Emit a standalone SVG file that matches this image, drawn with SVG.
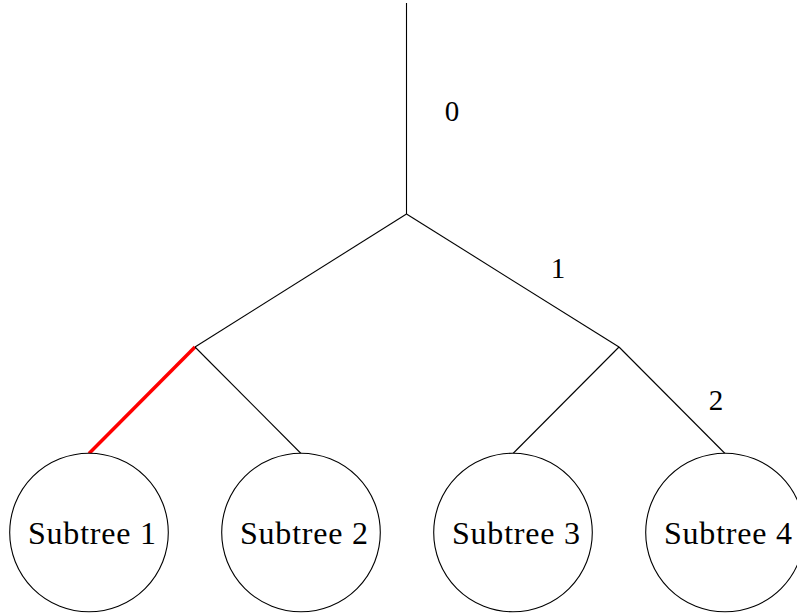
<svg xmlns="http://www.w3.org/2000/svg" width="797" height="616" viewBox="0 0 797 616">
<style>
.e{stroke:#000;stroke-width:1.1;fill:none}
.r{stroke:#f00;stroke-width:3.5;fill:none}
.n{stroke:#000;stroke-width:1.1;fill:#fff}
text{font-family:"Liberation Serif","DejaVu Serif",serif;font-size:32px;fill:#000;text-anchor:middle}
</style>
<rect width="797" height="616" fill="#fff"/>
<g id="connectors">
<line class="e" x1="406.5" y1="3" x2="406.5" y2="214"/>
<line class="e" x1="406.5" y1="214" x2="195" y2="347"/>
<line class="e" x1="406.5" y1="214" x2="619" y2="347"/>
<line class="r" x1="195" y1="347" x2="89" y2="453.5"/>
<line class="e" x1="195" y1="347" x2="301" y2="453.5"/>
<line class="e" x1="619" y1="347" x2="513" y2="453.5"/>
<line class="e" x1="619" y1="347" x2="725" y2="453.5"/>
<text x="452" y="121" style="font-size:29px">0</text>
<text x="558" y="278" style="font-size:29px">1</text>
<text x="716" y="410" style="font-size:29px">2</text>
</g>
<g id="subtree1"><circle class="n" cx="89" cy="532.5" r="79.3"/><text x="92" y="544" textLength="128">Subtree 1</text></g>
<g id="subtree2"><circle class="n" cx="301" cy="532.5" r="79.3"/><text x="304" y="544" textLength="128">Subtree 2</text></g>
<g id="subtree3"><circle class="n" cx="513" cy="532.5" r="79.3"/><text x="516" y="544" textLength="128">Subtree 3</text></g>
<g id="subtree4"><circle class="n" cx="725" cy="532.5" r="79.3"/><text x="728" y="544" textLength="128">Subtree 4</text></g>
</svg>
